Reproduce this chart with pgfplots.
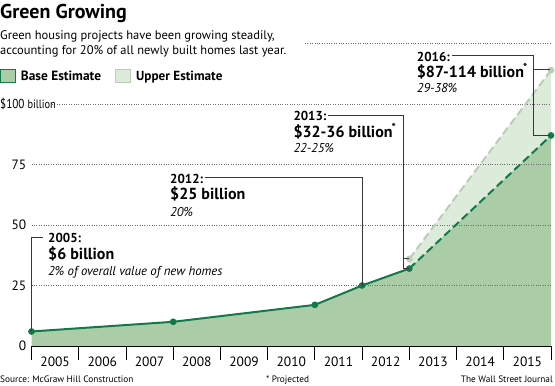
\documentclass[border=0pt]{standalone}
\usepackage{fontspec}
\setmainfont{PT Sans}
\usepackage{graphicx}
\usepackage{pgfplots}
\pgfplotsset{compat=1.18}
\definecolor{basefill}{RGB}{170,205,168}
\definecolor{upfill}{RGB}{221,236,218}
\definecolor{gline}{RGB}{18,122,72}
\definecolor{upline}{RGB}{185,205,185}
\definecolor{ann}{RGB}{55,55,55}
\definecolor{gridc}{RGB}{110,110,110}
\newcommand{\fs}[1]{\fontsize{#1}{#1}\selectfont}
\begin{document}
\begin{tikzpicture}
\useasboundingbox (0,0) rectangle (555pt,386pt);
\begin{axis}[
  at={(31.5pt,40pt)}, anchor=south west, scale only axis,
  width=519.5pt, height=302.5pt,
  xmin=2005, xmax=2016, ymin=0, ymax=125,
  clip=false,
  axis x line*=bottom, axis y line*=left,
  y axis line style={draw=none},
  x axis line style={black, line width=0.8pt, -},
  xtick={2005.5,2006.5,2007.5,2008.5,2009.5,2010.5,2011.5,2012.5,2013.5,2014.5,2015.5},
  xticklabels={2005,2006,2007,2008,2009,2010,2011,2012,2013,2014,2015},
  minor xtick={2005,2006,2007,2008,2009,2010,2011,2012,2013,2014,2015,2016},
  major tick length=0pt, minor tick length=14pt, tick align=outside,
  minor x tick style={black, line width=0.8pt},
  xticklabel style={font=\fs{13.5}, anchor=base, yshift=-21pt, inner sep=0pt},
  ytick={0,25,50,75},
  yticklabel style={font=\fs{13.5}, anchor=east, inner sep=0pt, xshift=-5pt},
  /pgf/number format/assume math mode=true,
]
% upper estimate band
\addplot[fill=upfill, draw=none] coordinates {(2013,32) (2013,36) (2016,114) (2016,87)} -- cycle;
% base estimate area
\addplot[fill=basefill, draw=none] coordinates {(2005,6) (2008,10) (2011,17) (2012,25) (2013,32) (2016,87)} \closedcycle;
% gridlines
\draw[gridc, line width=0.6pt, dash pattern=on 0.6pt off 1.8pt] (axis cs:2005,25) -- (axis cs:2016,25);
\draw[gridc, line width=0.6pt, dash pattern=on 0.6pt off 1.8pt] (axis cs:2005,50) -- (axis cs:2016,50);
\draw[gridc, line width=0.6pt, dash pattern=on 0.6pt off 1.8pt] (axis cs:2005,75) -- (axis cs:2016,75);
\draw[gridc, line width=0.6pt, dash pattern=on 0.6pt off 1.8pt] (axis cs:2005.434,100) -- (axis cs:2016,100);
\draw[gridc, line width=0.6pt, dash pattern=on 0.6pt off 1.8pt] (axis cs:2010.79,125) -- (axis cs:2016,125);
% lines
\addplot[upline, line width=2pt, dash pattern=on 8pt off 4pt, mark=*, mark size=2.3pt, mark options={solid, fill=upline}] coordinates {(2013,36) (2016,114)};
\addplot[gline, line width=2pt, dash pattern=on 8pt off 4pt, mark=*, mark size=2.3pt, mark indices={2}, mark options={solid, fill=gline}] coordinates {(2013,32) (2016,87)};
\addplot[gline, line width=2pt, mark=*, mark size=2.3pt, mark options={fill=gline}] coordinates {(2005,6) (2008,10) (2011,17) (2012,25) (2013,32)};
\end{axis}
\begin{scope}[x=1pt, y=-1pt, yshift=386pt]
% title and subtitle
\node[anchor=base west, inner sep=0] at (0,18.3) {\fs{20}\bfseries Green Growing};
\node[anchor=base west, inner sep=0] at (0,39.3) {\fs{12.5}Green housing projects have been growing steadily,};
\node[anchor=base west, inner sep=0] at (0,55) {\fs{12.5}accounting for 20\% of all newly built homes last year.};
% legend
\draw[fill=basefill, draw=gline, line width=1pt] (0.5,69.5) rectangle (15,83);
\node[anchor=base west, inner sep=0] at (20.7,81) {\fs{13.4}\bfseries Base Estimate};
\draw[fill=upfill, draw=upline, line width=1pt] (115.5,69.5) rectangle (130,83);
\node[anchor=base west, inner sep=0] at (136,81) {\fs{13.2}\bfseries Upper Estimate};
% 100 label
\node[anchor=base west, inner sep=0] at (0,108.5) {\scalebox{0.86}[1]{\fs{13}\$100 {\fs{12}billion}}};
% annotation lines
\draw[ann, line width=0.9pt] (43,237.7) -- (31.5,237.7) -- (31.5,331.5);
\draw[ann, line width=0.9pt] (205,177.7) -- (362,177.7) -- (362,286);
\draw[ann, line width=0.9pt] (328,115.7) -- (403,115.7) -- (403,268.3) -- (409,268.3);
\draw[ann, line width=0.9pt] (403,258.9) -- (409,258.9);
\draw[ann, line width=0.9pt] (452,55) -- (533,55) -- (533,135.5) -- (550,135.5);
\draw[ann, line width=0.9pt] (533,69.8) -- (550,69.8);
% annotation texts
\node[anchor=base west, inner sep=0] at (48,242.7) {\fs{13}\bfseries 2005:};
\node[anchor=base west, inner sep=0] at (48,259.2) {\fs{16}\bfseries \$6 billion};
\node[anchor=base west, inner sep=0] at (48,275.5) {\fs{12.8}\itshape 2\% of overall value of new homes};
\node[anchor=base west, inner sep=0] at (170,183.3) {\fs{13}\bfseries 2012:};
\node[anchor=base west, inner sep=0] at (170,200) {\fs{16}\bfseries \$25 billion};
\node[anchor=base west, inner sep=0] at (170,216.5) {\fs{12.8}\itshape 20\%};
\node[anchor=base west, inner sep=0] at (293.3,120.7) {\fs{13}\bfseries 2013:};
\node[anchor=base west, inner sep=0] at (293.3,137.3) {\fs{16}\bfseries \$32-36 billion\textsuperscript{\kern-1pt *}};
\node[anchor=base west, inner sep=0] at (293.3,152.7) {\fs{12.8}\itshape 22-25\%};
\node[anchor=base west, inner sep=0] at (416.7,61.7) {\fs{13}\bfseries 2016:};
\node[anchor=base west, inner sep=0] at (416.7,78) {\fs{16}\bfseries \$87-114 billion\textsuperscript{\kern-1pt *}};
\node[anchor=base west, inner sep=0] at (416.7,92.5) {\fs{12.8}\itshape 29-38\%};
% footer
\node[anchor=base west, inner sep=0] at (0,383) {\fs{9.3}Source: McGraw Hill Construction};
\node[anchor=base west, inner sep=0] at (266,383) {\fs{9.3}* Projected};
\node[anchor=base east, inner sep=0] at (553,383) {\fs{9.3}The Wall Street Journal};
\end{scope}
\end{tikzpicture}
\end{document}
